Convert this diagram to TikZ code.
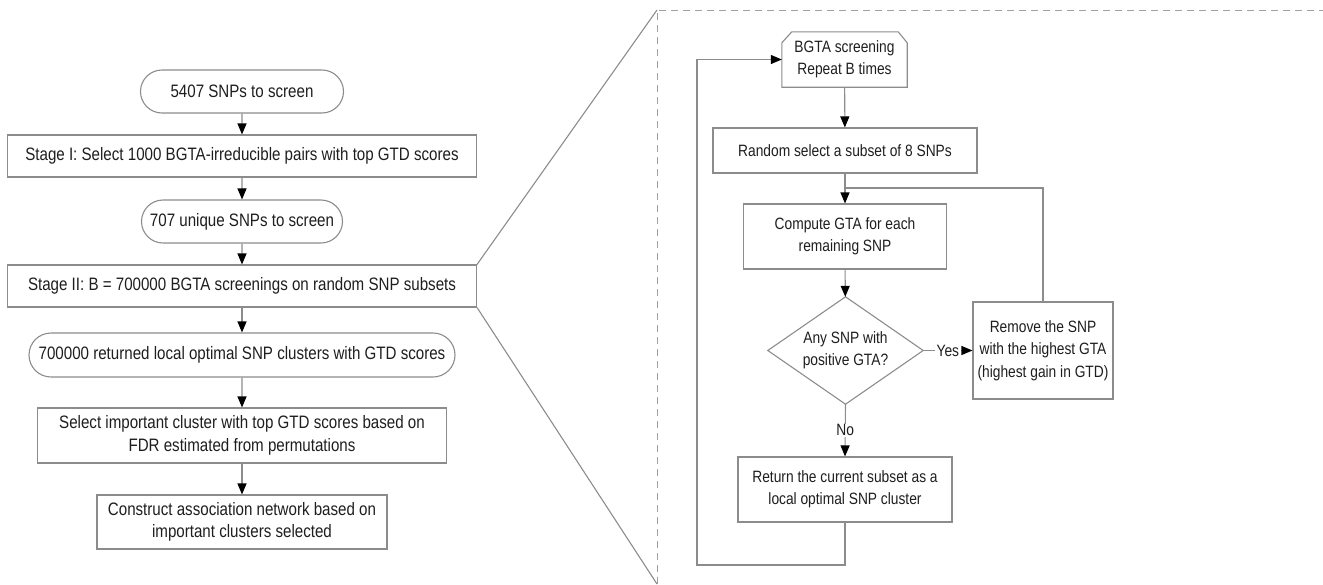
\documentclass[tikz,border=0pt]{standalone}
\usepackage{fontspec}
\setmainfont{Liberation Sans}[FakeStretch=0.84]
\usetikzlibrary{arrows.meta,shapes.misc,shapes.geometric}
\definecolor{edge}{HTML}{8C8C8C}
\definecolor{dashc}{HTML}{A0A0A0}
\definecolor{txt}{HTML}{1E1E1E}
\begin{document}
\begin{tikzpicture}[x=1pt,y=-1pt,
  every node/.style={text=txt, align=center, inner sep=0pt},
  box/.style={draw=edge, line width=1.1pt, rectangle},
  pill/.style={draw=edge, line width=1.1pt, rounded rectangle},
  ghost/.style={rectangle},
  flow/.style={draw=edge, line width=1.1pt, -{Triangle[width=9pt,length=11pt,color=black]}},
  link/.style={draw=edge, line width=1.1pt},
  zoomedge/.style={draw=dashc, line width=1pt, dash pattern=on 7pt off 5pt},
  big/.style={font=\fontsize{18}{22.5}\selectfont},
  small/.style={font=\fontsize{16.4}{22.5}\selectfont},
  lbl/.style={fill=white, inner xsep=2pt, inner ysep=1pt, small},
]
\useasboundingbox (0,0) rectangle (1323,584);

% ---- overall pipeline ----
\node[pill,big,minimum width=203pt,minimum height=43pt] (n1) at (242,91.5) {5407 SNPs to screen};
\node[box,big,minimum width=469pt,minimum height=42pt] (n2) at (242,156) {Stage I: Select 1000 BGTA-irreducible pairs with top GTD scores};
\node[pill,big,minimum width=201pt,minimum height=43pt] (n3) at (242,221.5) {707 unique SNPs to screen};
\node[box,big,minimum width=469pt,minimum height=42pt] (n4) at (242,286) {Stage II: B = 700000 BGTA screenings on random SNP subsets};
\node[pill,big,minimum width=426pt,minimum height=44pt] (n5) at (242,355) {700000 returned local optimal SNP clusters with GTD scores};
\node[box,big,minimum width=409pt,minimum height=55pt] (n6) at (242,435.5) {Select important cluster with top GTD scores based on\\FDR estimated from permutations};
\node[box,big,minimum width=290pt,minimum height=54pt] (n7) at (242,522) {Construct association network based on\\important clusters selected};

\draw[flow] (n1) -- (n2);
\draw[flow] (n2) -- (n3);
\draw[flow] (n3) -- (n4);
\draw[flow] (n4) -- (n5);
\draw[flow] (n5) -- (n6);
\draw[flow] (n6) -- (n7);

% ---- zoom frame for stage II ----
\coordinate (zt) at (657,10);
\coordinate (zb) at (657,584);
\coordinate (zr) at (1323,10);
\draw[link] (n4.north east) -- (zt);
\draw[link] (n4.south east) -- (zb);
\draw[zoomedge] (zb) -- (zt) -- (zr);

% ---- BGTA screening loop ----
\node[ghost,small,minimum width=125pt,minimum height=55pt] (bg) at (844.5,59.5) {BGTA screening\\Repeat B times};
\draw[link] (bg.south west) -- ([yshift=-11pt]bg.north west) -- ([xshift=10pt]bg.north west)
  -- ([xshift=-9pt]bg.north east) -- ([yshift=-11pt]bg.north east) -- (bg.south east) -- cycle;
\node[box,small,minimum width=264pt,minimum height=45pt] (rs) at (845,150.5) {Random select a subset of 8 SNPs};
\node[box,small,minimum width=203pt,minimum height=65pt] (cg) at (845,236.5) {Compute GTA for each\\remaining SNP};
\node[ghost,small,minimum width=155pt,minimum height=107pt] (dm) at (845.5,350.5) {Any SNP with\\positive GTA?};
\draw[link] (dm.north) -- (dm.east) -- (dm.south) -- (dm.west) -- cycle;
\node[box,small,minimum width=140pt,minimum height=97pt] (rm) at (1043,350.5) {Remove the SNP\\with the highest GTA\\(highest gain in GTD)};
\node[box,small,minimum width=214pt,minimum height=65pt] (rt) at (845,489.5) {Return the current subset as a\\local optimal SNP cluster};

\coordinate (join) at (845,188);
\coordinate (lowL) at (697,565);

\draw[flow] (bg) -- (rs);
\draw[flow] (rs) -- (cg);
\draw[flow] (cg) -- (dm);
\draw[flow] (dm.east) -- node[lbl] {Yes} (rm.west);
\draw[flow] (dm.south) -- node[lbl] {No} (rt.north);
\draw[link] (rm.north) |- (join);
\draw[flow] (rt.south) |- (lowL) |- (bg.west);
\end{tikzpicture}
\end{document}
